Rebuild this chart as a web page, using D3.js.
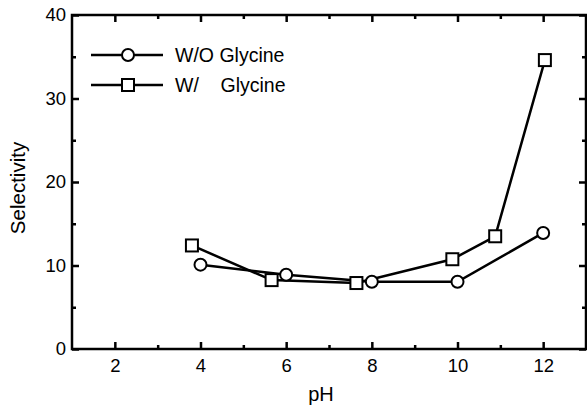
<!DOCTYPE html>
<html>
<head>
	<meta charset="utf-8">
	<title>Selectivity vs pH</title>
	<script src="https://d3js.org/d3.v7.min.js"></script>
	<style>
		body { margin: 0; padding: 0; background: #fff; }
		svg text { font-family: "Liberation Sans", Arial, Helvetica, sans-serif; fill: #000; }
		.axis path { display: none; }
		.axis line { stroke: #000; stroke-width: 2.5; }
		.axis text { font-size: 18.5px; }
	</style>
</head>
<body>
<div id="graph"></div>
<script>
// series
var phWithout = [4, 6, 8, 10, 12];
var selWithout = [10.1, 8.9, 8.05, 8.05, 13.9];
var phWith = [3.8, 5.66, 7.64, 9.88, 10.88, 12.04];
var selWith = [12.4, 8.25, 7.9, 10.75, 13.5, 34.6];

var xMajor = [2, 4, 6, 8, 10, 12];
var xMinor = [3, 5, 7, 9, 11];
var yMajor = [0, 10, 20, 30, 40];
var yMinor = [5, 15, 25, 35];

var seriesNames = ["W/O Glycine", "W/    Glycine"];

var W = 587, H = 405;
var margin = { top: 15, right: 1, bottom: 56, left: 72 };
var width = W - margin.left - margin.right;
var height = H - margin.top - margin.bottom;

var svg = d3.select("#graph").append("svg")
	.attr("width", W)
	.attr("height", H);

var g = svg.append("g")
	.attr("transform", "translate(" + margin.left + "," + margin.top + ")");

var x = d3.scaleLinear().domain([1, 13]).range([0, width]);
var y = d3.scaleLinear().domain([0, 40]).range([height, 0]);

//bottom axis, ticks pointing in
g.append("g").attr("class", "axis")
	.attr("transform", "translate(0," + height + ")")
	.call(d3.axisBottom(x).tickValues(xMajor).tickSize(-7).tickPadding(10).tickFormat(d3.format("d")));
g.append("g").attr("class", "axis")
	.attr("transform", "translate(0," + height + ")")
	.call(d3.axisBottom(x).tickValues(xMinor).tickSize(-4).tickFormat(""));
//top axis
g.append("g").attr("class", "axis")
	.call(d3.axisTop(x).tickValues(xMajor).tickSize(-7).tickFormat(""));
g.append("g").attr("class", "axis")
	.call(d3.axisTop(x).tickValues(xMinor).tickSize(-4).tickFormat(""));
//left axis
g.append("g").attr("class", "axis")
	.call(d3.axisLeft(y).tickValues(yMajor).tickSize(-7).tickPadding(6).tickFormat(d3.format("d")));
g.append("g").attr("class", "axis")
	.call(d3.axisLeft(y).tickValues(yMinor).tickSize(-4).tickFormat(""));
//right axis
g.append("g").attr("class", "axis")
	.attr("transform", "translate(" + width + ",0)")
	.call(d3.axisRight(y).tickValues(yMajor).tickSize(-7).tickFormat(""));
g.append("g").attr("class", "axis")
	.attr("transform", "translate(" + width + ",0)")
	.call(d3.axisRight(y).tickValues(yMinor).tickSize(-4).tickFormat(""));

//frame
g.append("rect")
	.attr("width", width)
	.attr("height", height)
	.attr("fill", "none")
	.attr("stroke", "#000")
	.attr("stroke-width", 2.5);

//axis titles
svg.append("text")
	.attr("x", 321)
	.attr("y", 401)
	.attr("text-anchor", "middle")
	.style("font-size", "20px")
	.text("pH");

svg.append("text")
	.attr("transform", "translate(25,188) rotate(-90)")
	.attr("text-anchor", "middle")
	.style("font-size", "20.5px")
	.text("Selectivity");

var line = d3.line()
	.x(function (d) { return x(d[0]); })
	.y(function (d) { return y(d[1]); });

var dWithout = phWithout.map(function (p, i) { return [p, selWithout[i]]; });
var dWith = phWith.map(function (p, i) { return [p, selWith[i]]; });

function drawLine(data) {
	g.append("path")
		.datum(data)
		.attr("fill", "none")
		.attr("stroke", "#000")
		.attr("stroke-width", 2.5)
		.attr("d", line);
}
drawLine(dWith);
drawLine(dWithout);

function circle(sel, cx, cy) {
	sel.append("circle")
		.attr("cx", cx).attr("cy", cy).attr("r", 6)
		.attr("fill", "#fff").attr("stroke", "#000").attr("stroke-width", 2);
}
function square(sel, cx, cy) {
	sel.append("rect")
		.attr("x", cx - 6).attr("y", cy - 6)
		.attr("width", 12).attr("height", 12)
		.attr("fill", "#fff").attr("stroke", "#000").attr("stroke-width", 2);
}

dWith.forEach(function (d) { square(g, x(d[0]), y(d[1])); });
dWithout.forEach(function (d) { circle(g, x(d[0]), y(d[1])); });

//legend
var legendY = [55, 85];
legendY.forEach(function (ly, i) {
	svg.append("line")
		.attr("x1", 91).attr("x2", 163)
		.attr("y1", ly).attr("y2", ly)
		.attr("stroke", "#000").attr("stroke-width", 2.5);
	if (i == 0) circle(svg, 128, ly); else square(svg, 128, ly);
	svg.append("text")
		.attr("x", 175)
		.attr("y", ly + 7)
		.style("font-size", "19.5px")
		.style("white-space", "pre")
		.text(seriesNames[i]);
});
</script>
</body>
</html>
